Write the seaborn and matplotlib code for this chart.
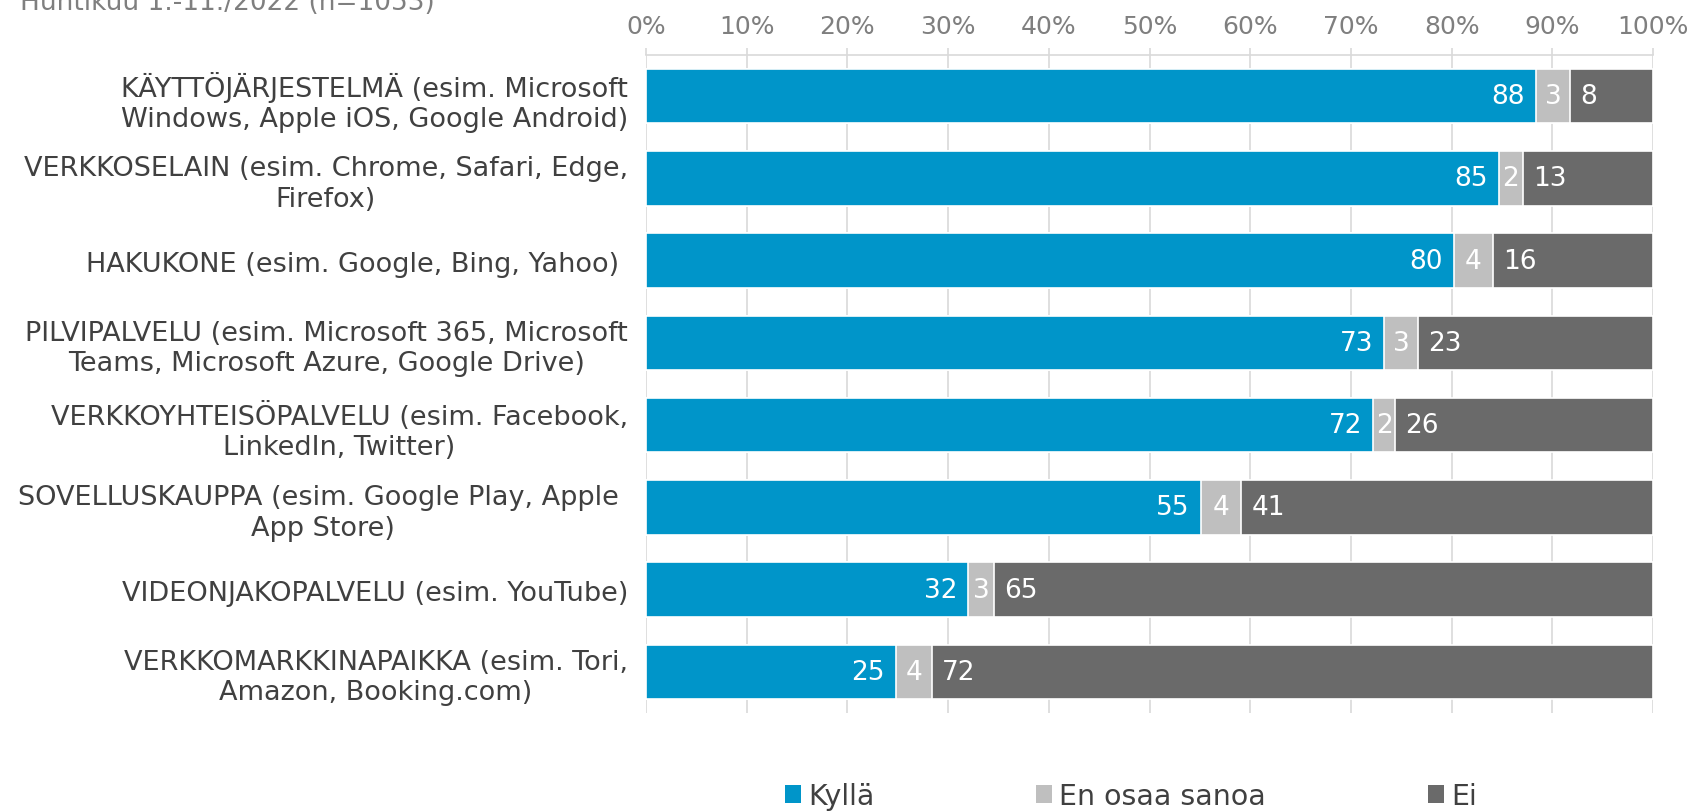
import numpy as np
import pandas as pd
import matplotlib
matplotlib.use("Agg")
import matplotlib.pyplot as plt
import seaborn as sns
from matplotlib.patches import Patch

categories = [
    "KÄYTTÖJÄRJESTELMÄ (esim. Microsoft\nWindows, Apple iOS, Google Android)",
    "VERKKOSELAIN (esim. Chrome, Safari, Edge,\nFirefox)",
    "HAKUKONE (esim. Google, Bing, Yahoo) ",
    "PILVIPALVELU (esim. Microsoft 365, Microsoft\nTeams, Microsoft Azure, Google Drive)",
    "VERKKOYHTEISÖPALVELU (esim. Facebook,\nLinkedIn, Twitter)",
    "SOVELLUSKAUPPA (esim. Google Play, Apple \nApp Store)",
    "VIDEONJAKOPALVELU (esim. YouTube)",
    "VERKKOMARKKINAPAIKKA (esim. Tori,\nAmazon, Booking.com)",
]
kylla = [88.1, 84.6, 80.2, 73.3, 72.2, 55.1, 32.0, 24.8]
eos = [3.4, 2.4, 3.9, 3.4, 2.2, 4.0, 2.6, 3.6]
ei = [8.2, 12.9, 15.9, 23.3, 25.6, 40.9, 65.4, 71.6]
series_names = ["Kyllä", "En osaa sanoa", "Ei"]
colors = ["#0095C9", "#BFBFBF", "#6A6A6A"]
xticks = [0, 10, 20, 30, 40, 50, 60, 70, 80, 90, 100]
title = "Huhtikuu 1.-11./2022 (n=1053)"

sns.set_theme(style="white")
plt.rcParams['font.family'] = ['DejaVu Sans']

k = np.array(kylla); e = np.array(eos); n = np.array(ei)
tot = k + e + n
pk = k / tot * 100
pe = e / tot * 100
pn = n / tot * 100

df = pd.DataFrame({
    "cat": categories,
    "c1": pk,
    "c2": pk + pe,
    "c3": pk + pe + pn,
})

W, H = 1693, 812
fig = plt.figure(figsize=(W / 100, H / 100), dpi=100)
ax = fig.add_axes([646 / W, 1 - 714 / H, 1007 / W, 658 / H])

grid_c = "#D9D9D9"
ax.set_axisbelow(True)
for xv in xticks:
    ax.axvline(xv, color=grid_c, lw=1.2, zorder=0)

bw = 0.66
for col, c in zip(["c3", "c2", "c1"], [colors[2], colors[1], colors[0]]):
    sns.barplot(data=df, y="cat", x=col, order=categories, orient="h",
                color=c, width=bw, edgecolor="white", linewidth=1.2,
                saturation=1, ax=ax, zorder=2)

fs = 19
for i in range(len(categories)):
    ax.text(pk[i] - 1.1, i, f"{kylla[i]:.0f}", color="white", ha="right",
            va="center", fontsize=fs, zorder=5)
    ax.text(pk[i] + pe[i] / 2, i, f"{eos[i]:.0f}", color="white", ha="center",
            va="center", fontsize=fs, zorder=5)
    ax.text(pk[i] + pe[i] + 1.0, i, f"{ei[i]:.0f}", color="white", ha="left",
            va="center", fontsize=fs, zorder=5)

ax.set_xlim(0, 100)
ax.set_ylim(len(categories) - 0.5, -0.5)
ax.set_xlabel("")
ax.set_ylabel("")
ax.xaxis.tick_top()
ax.set_xticks(xticks)
ax.set_xticklabels([f"{v}%" for v in xticks])
ax.tick_params(axis="x", top=True, length=5, width=1.2, color=grid_c,
               labelcolor="#7F7F7F", labelsize=18, pad=7)
ax.tick_params(axis="y", left=False, labelcolor="#404040", labelsize=19.5, pad=7)
for lab in ax.get_yticklabels():
    lab.set_multialignment("center")
    lab.set_linespacing(1.22)
for s in ["left", "right", "bottom"]:
    ax.spines[s].set_visible(False)
ax.spines["top"].set_color(grid_c)
ax.spines["top"].set_linewidth(1.2)

fig.text(20 / W, 1 - 10 / H, title, color="#7F7F7F", fontsize=19,
         ha="left", va="baseline")

lfs = 20.5
handles = [Patch(facecolor=c, edgecolor="none") for c in colors]
leg = fig.legend(handles, series_names, loc="center left",
                 bbox_to_anchor=((785 - 0.4 * lfs * 100 / 72) / W, 1 - 797 / H),
                 ncol=3, frameon=False, borderaxespad=0,
                 fontsize=lfs, handlelength=0.55, handleheight=0.55,
                 handletextpad=0.25, columnspacing=5.7)
for t in leg.get_texts():
    t.set_color("#404040")

fig.savefig("out.png", dpi=100)
